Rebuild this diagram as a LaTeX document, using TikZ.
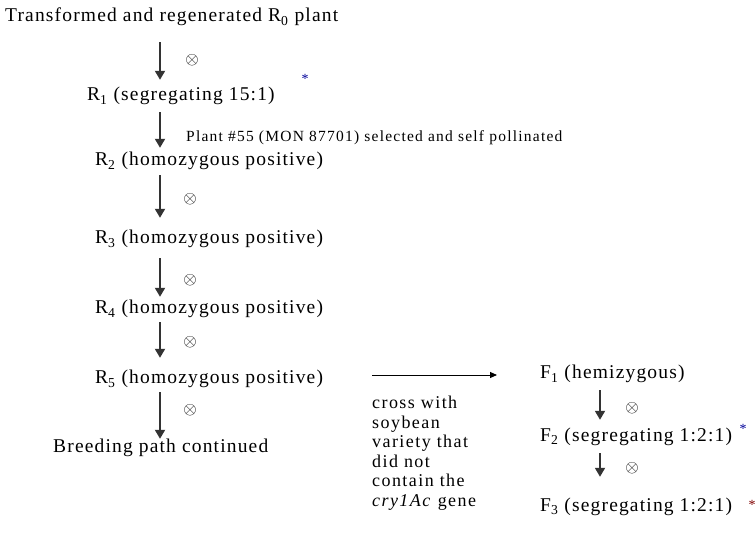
\documentclass[tikz,border=0pt]{standalone}
\usepackage{fontspec}
\setmainfont{Liberation Serif}[LetterSpace=6]
\usetikzlibrary{arrows.meta, positioning}

\begin{document}
\begin{tikzpicture}[
    x=1pt, y=-1pt,
    gen/.style={anchor=west, inner sep=0pt, text height=12pt, text depth=4pt, font=\fontsize{19.5}{22}\selectfont},
    note/.style={anchor=west, inner sep=0pt, font=\fontsize{15.5}{18}\selectfont\addfontfeatures{LetterSpace=8}},
    selfsym/.style={inner sep=0pt, font=\fontsize{17}{17}\selectfont},
    flag/.style={inner sep=0pt, font=\fontsize{14}{14}\selectfont},
    arr/.style={-{Triangle[length=9pt, width=10pt]}, line width=1.8pt, draw=black!80},
    thinarr/.style={-{Triangle[length=7pt, width=6pt]}, line width=0.9pt},
]
\useasboundingbox (0,0) rectangle (755,534);

% main breeding line
\node[gen] (r0) at (5,18) {Transformed and regenerated R\textsubscript{0} plant};
\node[gen] (r1) at (87,97) {R\textsubscript{1} (segregating 15:1)};
\node[gen] (r2) at (95,162) {R\textsubscript{2} (homozygous positive)};
\node[gen] (r3) at (95,240) {R\textsubscript{3} (homozygous positive)};
\node[gen] (r4) at (95,310) {R\textsubscript{4} (homozygous positive)};
\node[gen] (r5) at (95,380) {R\textsubscript{5} (homozygous positive)};
\node[gen] (cont) at (53,448) {Breeding path continued};

\coordinate (col) at (160,0);
\foreach \a/\b/\s/\e in {r0/r1/16/9, r1/r2/7/6, r2/r3/5/14, r3/r4/10/5, r4/r5/4/14, r5/cont/4/1}
    \draw[arr, shorten <=\s pt, shorten >=\e pt] (\a.south -| col) -- (\b.north -| col);

\node[note] (pick) at (186,138) {Plant \#55 (MON 87701) selected and self pollinated};

% selfing marks
\node[selfsym] (s1) at (192,60) {$\otimes$};
\node[selfsym] (s3) at (190,199) {$\otimes$};
\node[selfsym] (s4) at (190,280) {$\otimes$};
\node[selfsym] (s5) at (190,342) {$\otimes$};
\node[selfsym] (s6) at (190,410) {$\otimes$};

% cross line
\node[gen] (f1) at (540,375) {F\textsubscript{1} (hemizygous)};
\node[gen] (f2) at (540,437) {F\textsubscript{2} (segregating 1:2:1)};
\node[gen] (f3) at (540,507) {F\textsubscript{3} (segregating 1:2:1)};

\coordinate (fcol) at (600,0);
\foreach \a/\b/\s/\e in {f1/f2/7/9, f2/f3/8/22}
    \draw[arr, shorten <=\s pt, shorten >=\e pt] (\a.south -| fcol) -- (\b.north -| fcol);

\node[selfsym] (s7) at (632,408) {$\otimes$};
\node[selfsym] (s8) at (632,468) {$\otimes$};

\node[note, anchor=north west, align=left, font=\fontsize{18}{19.5}\selectfont\addfontfeatures{LetterSpace=8}] (cross) at (372,396)
    {cross with\\soybean\\variety that\\did not\\contain the\\\textit{cry1Ac} gene};
\draw[thinarr, shorten >=43pt] (cross.north west |- f1.west) -- (f1.west);

% footnote marks
\node[flag, text=blue!60!black] (m1) at (305,79) {*};
\node[flag, text=blue!60!black] (m2) at (743,429) {*};
\node[flag, text=red!50!black] (m3) at (752,505) {*};

\end{tikzpicture}
\end{document}
